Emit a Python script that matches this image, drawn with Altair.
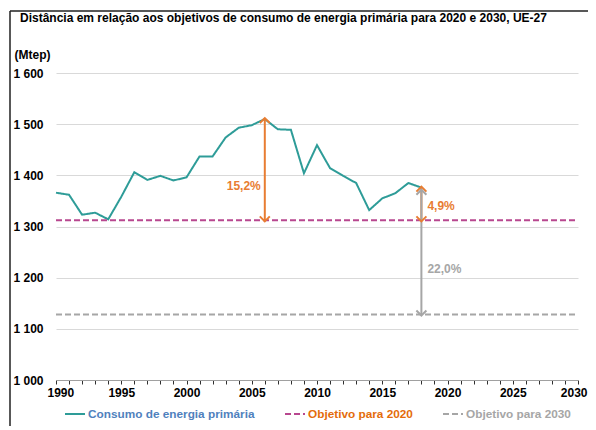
import altair as alt
import pandas as pd

# ---- data ----
years = list(range(1990, 2019))
consumption = [1366, 1362, 1323, 1327, 1314, 1358, 1406, 1391, 1399, 1390,
               1396, 1437, 1437, 1474, 1493, 1498, 1510, 1490, 1489, 1404,
               1459, 1414, 1399, 1385, 1332, 1355, 1365, 1385, 1376]
target_years = [1990, 2030]
target_2020 = 1312
target_2030 = 1128

series_names = ["Consumo de energia primária", "Objetivo para 2020", "Objetivo para 2030"]
series_colors = ["#2e9c98", "#b8478f", "#a6a6a6"]
label_colors = ["#4f81bd", "#e46c0a", "#a6a6a6"]

arrow_year = [2006, 2018, 2018]
arrow_from = [1510, 1376, 1370]
arrow_to = [1312, 1312, 1128]
arrow_color = ["#e87d32", "#e87d32", "#a6a6a6"]
arrow_dx = [0, 2, -1]

label_text = ["15,2%", "4,9%", "22,0%"]
label_year = [2006, 2018, 2018]
label_value = [1379, 1340, 1217]
label_align = ["right", "left", "left"]

x_ticks = list(range(1990, 2031))
y_ticks = [1000, 1100, 1200, 1300, 1400, 1500, 1600]

title_text = "Distância em relação aos objetivos de consumo de energia primária para 2020 e 2030, UE-27"

FONT = "Liberation Sans"

rows = []
for y, v in zip(years, consumption):
    rows.append({"year": y, "value": v, "series": series_names[0]})
for y in target_years:
    rows.append({"year": y, "value": target_2020, "series": series_names[1]})
    rows.append({"year": y, "value": target_2030, "series": series_names[2]})
df = pd.DataFrame(rows)

arrows = pd.DataFrame({"year": arrow_year, "v1": arrow_from, "v2": arrow_to,
                       "color": arrow_color, "dx": arrow_dx})
heads_up = pd.DataFrame({"year": arrow_year, "v": arrow_from, "color": arrow_color, "dx": arrow_dx})
heads_dn = pd.DataFrame({"year": arrow_year, "v": arrow_to, "color": arrow_color, "dx": arrow_dx})
labels = pd.DataFrame({"year": label_year, "v": label_value, "text": label_text,
                       "color": arrow_color, "align": label_align})

xscale = alt.Scale(domain=[1990, 2030], nice=False, zero=False)
yscale = alt.Scale(domain=[1000, 1600], nice=False, zero=False)

label_expr = ("datum.label == '%s' ? '%s' : datum.label == '%s' ? '%s' : '%s'"
              % (series_names[0], label_colors[0], series_names[1], label_colors[1], label_colors[2]))

X_AXIS = alt.Axis(values=x_ticks,
                  labelExpr="datum.value % 5 == 0 ? toString(datum.value) : ''",
                  title=None, grid=False, tickSize=4, ticks=True, tickWidth=1,
                  tickColor="#303030", domainColor="#a0a0a0",
                  labelOverlap=False,
                  labelFont=FONT, labelFontSize=12, labelFontWeight="bold",
                  labelColor="#000000", labelPadding=3,
                  labelFlush=True, labelFlushOffset=9)
Y_AXIS = alt.Axis(values=y_ticks,
                  labelExpr="replace(format(datum.value, ','), ',', ' ')",
                  ticks=False, domain=False, grid=True, gridColor="#d9d9d9",
                  labelAlign="left", labelPadding=43, labelOverlap=False,
                  labelFont=FONT, labelFontSize=12, labelFontWeight="bold",
                  labelColor="#000000",
                  title="(Mtep)", titleAngle=0, titleAlign="left",
                  titleBaseline="alphabetic", titleX=-42, titleY=-15,
                  titleFont=FONT, titleFontSize=12, titleFontWeight="bold",
                  titleColor="#000000")


def X(field="year:Q"):
    return alt.X(field, scale=xscale, axis=X_AXIS)


def Y(field):
    return alt.Y(field, scale=yscale, axis=Y_AXIS)


lines = alt.Chart(df).mark_line(strokeWidth=2).encode(
    x=X(),
    y=Y("value:Q"),
    color=alt.Color("series:N", scale=alt.Scale(domain=series_names, range=series_colors),
                    legend=alt.Legend(title=None, orient="none", direction="horizontal",
                                      legendX=8, legendY=330, symbolType="stroke",
                                      symbolSize=400, symbolStrokeWidth=2,
                                      columnPadding=26, labelOffset=2, labelLimit=0,
                                      labelFont=FONT, labelFontSize=11.8,
                                      labelFontWeight="bold",
                                      labelColor=alt.ExprRef(expr=label_expr))),
    strokeDash=alt.StrokeDash("series:N",
                              scale=alt.Scale(domain=series_names,
                                              range=[[1, 0], [6, 3], [6, 3]]),
                              legend=None),
)

rules = alt.Chart(arrows).mark_rule(strokeWidth=2).encode(
    x=X(), y=Y("v1:Q"), y2="v2:Q",
    color=alt.Color("color:N", scale=None),
    xOffset=alt.XOffset("dx:Q", scale=None),
)

up_shape = "M-1,0.8 L0,-0.2 L1,0.8"
dn_shape = "M-1,-0.8 L0,0.2 L1,-0.8"


def heads(data, shape):
    return alt.Chart(data).mark_point(shape=shape, size=100, filled=False, strokeWidth=2,
                                      opacity=1).encode(
        x=X(), y=Y("v:Q"),
        color=alt.Color("color:N", scale=None),
        xOffset=alt.XOffset("dx:Q", scale=None),
    )


hu = heads(heads_up, up_shape)
hd = heads(heads_dn, dn_shape)


def texts(data, align, dx):
    return alt.Chart(data).mark_text(
        align=align, dx=dx, font=FONT, fontSize=12, fontWeight="bold").encode(
        x=X(), y=Y("v:Q"), text="text:N",
        color=alt.Color("color:N", scale=None))


txt_right = texts(labels[labels["align"] == "right"], "right", -4)
txt_left = texts(labels[labels["align"] == "left"], "left", 6)

one = pd.DataFrame({"t": [title_text]})
title_mark = alt.Chart(one).mark_text(align="left", baseline="alphabetic", font=FONT,
                                      fontSize=12, fontWeight="bold", color="#000000").encode(
    x=alt.value(-36), y=alt.value(-51), text="t:N")

frame_top = alt.Chart(one).mark_rule(color="#202020", strokeWidth=1.5).encode(
    x=alt.value(-46), x2=alt.value(600), y=alt.value(-62))
frame_left = alt.Chart(one).mark_rule(color="#202020", strokeWidth=1.5).encode(
    x=alt.value(-46), y=alt.value(-62), y2=alt.value(400))

chart = alt.layer(lines, rules, hu, hd, txt_right, txt_left,
                  frame_top, frame_left, title_mark).properties(
    width=522, height=307,
    autosize=alt.AutoSizeParams(type="none"),
    padding={"left": 48, "top": 65, "right": 10, "bottom": 46},
).configure_view(stroke=None)

chart.save("out.html", embed_options={"renderer": "svg", "actions": False})
